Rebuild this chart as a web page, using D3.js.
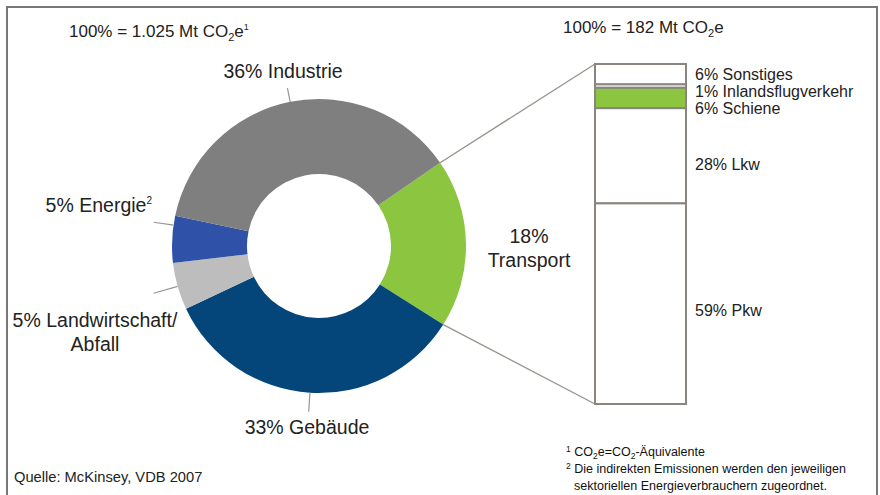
<!DOCTYPE html>
<html>
<head>
<meta charset="utf-8">
<script src="https://cdn.jsdelivr.net/npm/d3@7"></script>
<style>
  body { margin: 0; background: #fff; }
  svg { display: block; font-family: "Liberation Sans", Arial, sans-serif; }
</style>
</head>
<body>
<svg id="chart" width="880" height="495"></svg>
<script>
// Gesamtemissionen (Donut)
const sectors = ["Industrie", "Energie", "Landwirtschaft/Abfall", "Gebäude", "Transport"];
const sectorShare = [36, 5, 5, 33, 18];
const sectorColors = ["#7f7f7f", "#2f52a8", "#bdbdbd", "#05467a", "#8cc540"];

// Transport-Aufteilung (Säule), von oben nach unten
const transportParts = ["Sonstiges", "Inlandsflugverkehr", "Schiene", "Lkw", "Pkw"];
const transportShare = [6, 1, 6, 28, 59];
const transportFill = ["#fff", "#fff", "#8cc540", "#fff", "#fff"];

const svg = d3.select("#chart");
const textCol = "#222";
const lineCol = "#9a948e";

//------ Rahmen ------
svg.append("path")
    .attr("d", "M7,495 V7 H877 V495")
    .attr("fill", "none")
    .attr("stroke", "#777")
    .attr("stroke-width", 2);

//------ Titel ------
function co2Title(x, y, pre, sup) {
    let t = svg.append("text").attr("x", x).attr("y", y)
        .attr("font-size", 17).attr("fill", textCol);
    t.append("tspan").text(pre + " CO");
    t.append("tspan").attr("font-size", 11).attr("dy", 4).text("2");
    t.append("tspan").attr("dy", -4).text("e");
    if (sup) t.append("tspan").attr("font-size", 9).attr("dy", -7).text(sup);
}
co2Title(69, 37, "100% = 1.025 Mt", "1");
co2Title(563, 33, "100% = 182 Mt", null);

//------ Donut ------
const cx = 319, cy = 246, rOut = 147, rIn = 72;
const g = svg.append("g").attr("transform", `translate(${cx},${cy})`);

const startA = 55.5 * Math.PI / 180;
// Transport zuerst (rechts), dann im Uhrzeigersinn
const order = [4, 3, 2, 1, 0];
const pie = d3.pie().sort(null).value(i => sectorShare[i])
    .startAngle(startA).endAngle(startA + 2 * Math.PI);
const arcs = pie(order);
const arc = d3.arc().innerRadius(rIn).outerRadius(rOut);

g.selectAll("path.slice").data(arcs).enter()
    .append("path")
    .attr("class", "slice")
    .attr("d", arc)
    .attr("fill", d => sectorColors[d.data]);

const byIdx = {};
arcs.forEach(a => byIdx[a.data] = a);
const polar = (ang, r) => [Math.sin(ang) * r, -Math.cos(ang) * r];

// Hinweislinien: Position in der Scheibe (0..1), Länge
const leaders = [
    { i: 0, t: 0.5, len: 14 },
    { i: 1, t: 0.8, len: 20 },
    { i: 2, t: 0.5, len: 25 },
    { i: 3, t: 0.5, len: 19 }
];
leaders.forEach(l => {
    let a = byIdx[l.i];
    let ang = a.startAngle + l.t * (a.endAngle - a.startAngle);
    let p0 = polar(ang, rOut), p1 = polar(ang, rOut + l.len);
    g.append("line")
        .attr("x1", p0[0]).attr("y1", p0[1])
        .attr("x2", p1[0]).attr("y2", p1[1])
        .attr("stroke", lineCol).attr("stroke-width", 1.2);
});

// Beschriftung Donut
const labelFont = 19.5;
const donutLabels = [
    { i: 0, x: 283, y: 78, anchor: "middle", lines: [sectorShare[0] + "% " + sectors[0]] },
    { i: 1, x: 152, y: 212, anchor: "end", lines: [sectorShare[1] + "% " + sectors[1]], sup: "2" },
    { i: 2, x: 95, y: 327, anchor: "middle", lines: [sectorShare[2] + "% Landwirtschaft/", "Abfall"] },
    { i: 3, x: 307, y: 434, anchor: "middle", lines: [sectorShare[3] + "% " + sectors[3]] },
    { i: 4, x: 529, y: 243, anchor: "middle", lines: [sectorShare[4] + "%", sectors[4]] }
];
donutLabels.forEach(l => {
    let t = svg.append("text")
        .attr("x", l.x).attr("y", l.y)
        .attr("text-anchor", l.anchor)
        .attr("font-size", labelFont)
        .attr("fill", textCol);
    l.lines.forEach((s, k) => {
        t.append("tspan").attr("x", l.x).attr("dy", k ? 24 : 0).text(s);
    });
    if (l.sup) t.append("tspan").attr("font-size", 10).attr("dy", -8).text(l.sup);
});

//------ Säule Transport ------
const barX = 595, barW = 91, barTop = 64, barBot = 404;
const y = d3.scaleLinear().domain([0, d3.sum(transportShare)]).range([barTop, barBot]);
const cum = d3.cumsum(transportShare);
const segs = transportShare.map((v, i) => ({ name: transportParts[i], v, i, y0: cum[i] - v, y1: cum[i] }));

// Verbindungslinien vom Transport-Segment zur Säule
const tr = byIdx[4];
const pTop = polar(tr.startAngle, rOut), pBot = polar(tr.endAngle, rOut);
svg.append("line")
    .attr("x1", cx + pTop[0]).attr("y1", cy + pTop[1])
    .attr("x2", barX).attr("y2", y(0))
    .attr("stroke", lineCol).attr("stroke-width", 1.4);
svg.append("line")
    .attr("x1", cx + pBot[0]).attr("y1", cy + pBot[1])
    .attr("x2", barX).attr("y2", y(d3.sum(transportShare)))
    .attr("stroke", lineCol).attr("stroke-width", 1.4);

svg.selectAll("rect.seg").data(segs).enter()
    .append("rect")
    .attr("class", "seg")
    .attr("x", barX)
    .attr("y", d => y(d.y0))
    .attr("width", barW)
    .attr("height", d => y(d.y1) - y(d.y0))
    .attr("fill", d => transportFill[d.i])
    .attr("stroke", "#8a8580")
    .attr("stroke-width", 2);

// Beschriftung Säule (überlappungsfrei nach unten schieben)
let lastY = -Infinity;
segs.forEach(d => {
    let ly = (y(d.y0) + y(d.y1)) / 2 + 6;
    if (ly < lastY + 17) ly = lastY + 17;
    lastY = ly;
    d.ly = ly;
});
svg.selectAll("text.seglab").data(segs).enter()
    .append("text")
    .attr("class", "seglab")
    .attr("x", 695)
    .attr("y", d => d.ly + (d.i === 3 ? 8 : d.i === 4 ? 6 : 0))
    .attr("font-size", 16)
    .attr("fill", textCol)
    .text(d => d.v + "% " + d.name);

//------ Quelle + Fußnoten ------
svg.append("text")
    .attr("x", 14).attr("y", 482)
    .attr("font-size", 14.7)
    .attr("fill", textCol)
    .text("Quelle: McKinsey, VDB 2007");

const fn = svg.append("g").attr("font-size", 12.5).attr("fill", "#111");
let f1 = fn.append("text").attr("x", 566).attr("y", 456);
f1.append("tspan").attr("font-size", 8.5).attr("dy", -4).text("1");
f1.append("tspan").attr("dy", 4).text(" CO");
f1.append("tspan").attr("font-size", 8.5).attr("dy", 3).text("2");
f1.append("tspan").attr("dy", -3).text("e=CO");
f1.append("tspan").attr("font-size", 8.5).attr("dy", 3).text("2");
f1.append("tspan").attr("dy", -3).text("-Äquivalente");
let f2 = fn.append("text").attr("x", 566).attr("y", 473);
f2.append("tspan").attr("font-size", 8.5).attr("dy", -4).text("2");
f2.append("tspan").attr("dy", 4).text(" Die indirekten Emissionen werden den jeweiligen");
fn.append("text").attr("x", 574).attr("y", 490)
    .text("sektoriellen Energieverbrauchern zugeordnet.");
</script>
</body>
</html>
